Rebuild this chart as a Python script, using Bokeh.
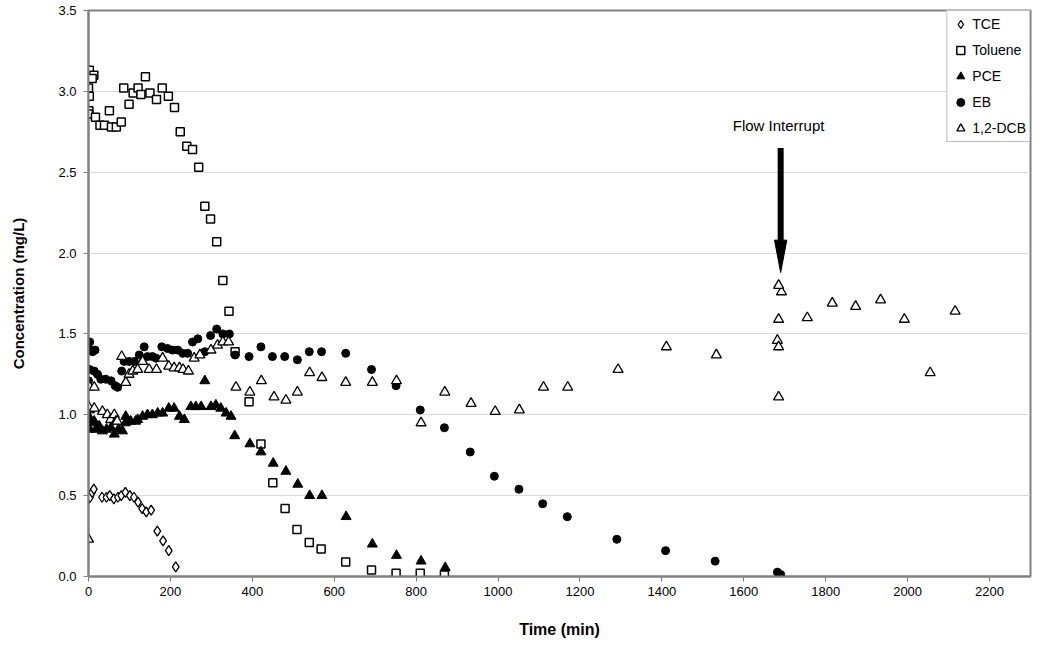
from bokeh.plotting import figure
from bokeh.models import Range1d, NumeralTickFormatter, Legend, LegendItem, FixedTicker
from bokeh.core.properties import value
from bokeh.embed import file_html
from bokeh.resources import INLINE

# ---------------- data ----------------
tce_t = [0, 1, 4, 9, 13, 33, 44, 52, 62, 72, 80, 90, 101, 111, 121, 131, 141, 153, 168, 182, 196, 213]
tce_c = [0.48, 0.50, 0.49, 0.52, 0.54, 0.49, 0.49, 0.50, 0.48, 0.49, 0.50, 0.52, 0.50, 0.49, 0.46, 0.42, 0.40, 0.41, 0.28, 0.22, 0.16, 0.06]

tol_t = [2, 13, 9, 0, 2, 1, 0, 17, 28, 39, 51, 56, 68, 80, 86, 99, 109, 121, 128, 139, 150, 166, 180, 195,
         210, 224, 240, 254, 269, 284, 298, 313, 328, 343, 358, 392, 421, 450, 480, 509, 539, 568, 628,
         691, 751, 810, 869]
tol_c = [3.13, 3.10, 3.08, 3.02, 2.97, 2.88, 2.86, 2.84, 2.79, 2.79, 2.88, 2.78, 2.78, 2.81, 3.02, 2.92, 2.99,
         3.02, 2.98, 3.09, 2.99, 2.95, 3.02, 2.97, 2.90, 2.75, 2.66, 2.64, 2.53, 2.29, 2.21, 2.07, 1.83, 1.64,
         1.39, 1.08, 0.82, 0.58, 0.42, 0.29, 0.21, 0.17, 0.09, 0.04, 0.02, 0.02, 0.01]

pce_t = [3, 3, 3, 3, 14, 18, 26, 34, 44, 55, 63, 73, 83, 90, 91, 103, 115, 120, 132, 144, 156, 169, 181,
         196, 209, 222, 234, 250, 262, 275, 284, 299, 311, 323, 336, 348, 357, 394, 421, 451, 482, 511,
         540, 570, 629, 693, 752, 812, 871]
pce_c = [1.03, 0.98, 0.95, 0.91, 0.96, 0.91, 0.93, 0.90, 0.91, 0.92, 0.88, 0.91, 0.90, 0.95, 0.99, 0.96,
         0.96, 0.97, 0.99, 1.00, 1.00, 1.01, 1.01, 1.04, 1.04, 0.99, 0.97, 1.05, 1.05, 1.05, 1.21, 1.05,
         1.06, 1.04, 1.01, 0.99, 0.87, 0.82, 0.77, 0.70, 0.65, 0.57, 0.50, 0.50, 0.37, 0.20, 0.13, 0.095, 0.054]

eb_t = [3, 3, 10, 16, 0, 3, 14, 22, 30, 42, 55, 65, 71, 81, 87, 99, 112, 124, 136, 144, 156, 165, 179,
        193, 205, 218, 230, 242, 254, 267, 284, 298, 313, 328, 344, 358, 392, 421, 449, 479, 510, 539,
        569, 628, 691, 751, 810, 869, 932, 991, 1051, 1109, 1169, 1290, 1409, 1530, 1682, 1690]
eb_c = [1.45, 1.40, 1.39, 1.40, 1.21, 1.28, 1.27, 1.25, 1.22, 1.22, 1.21, 1.18, 1.17, 1.27, 1.33, 1.33,
        1.33, 1.37, 1.42, 1.36, 1.36, 1.35, 1.42, 1.41, 1.40, 1.40, 1.38, 1.38, 1.45, 1.47, 1.39, 1.49,
        1.53, 1.50, 1.50, 1.37, 1.36, 1.42, 1.36, 1.36, 1.34, 1.39, 1.39, 1.38, 1.28, 1.18, 1.03, 0.92,
        0.77, 0.62, 0.54, 0.45, 0.37, 0.23, 0.16, 0.095, 0.027, 0.012]

dcb_t = [0, 0, 3, 14, 14, 34, 46, 54, 63, 67, 70, 81, 91, 99, 108, 120, 132, 148, 166, 181, 196, 209,
         222, 231, 244, 258, 272, 299, 315, 328, 342, 360, 394, 422, 453, 482, 510, 540, 570, 628, 693,
         752, 812, 870, 934, 993, 1052, 1111, 1170, 1293, 1411, 1533, 1682, 1685, 1685, 1685, 1692,
         1755, 1816, 1873, 1934, 1992, 2055, 2116, 1685]
dcb_c = [0.23, 1.05, 1.17, 1.17, 1.04, 1.02, 1.00, 0.97, 1.00, 0.96, 0.96, 1.36, 1.20, 1.25, 1.27, 1.28,
         1.33, 1.28, 1.28, 1.35, 1.30, 1.29, 1.29, 1.28, 1.27, 1.35, 1.37, 1.40, 1.43, 1.45, 1.45, 1.17,
         1.14, 1.21, 1.11, 1.09, 1.14, 1.26, 1.23, 1.20, 1.20, 1.21, 0.95, 1.14, 1.07, 1.02, 1.03, 1.17,
         1.17, 1.28, 1.42, 1.37, 1.46, 1.42, 1.11, 1.59, 1.76, 1.60, 1.69, 1.67, 1.71, 1.59, 1.26, 1.64, 1.80]

x_ticks = list(range(0, 2201, 200))
y_ticks = [0.0, 0.5, 1.0, 1.5, 2.0, 2.5, 3.0, 3.5]

# annotation
ann_text = "Flow  Interrupt"
ann_x = 1690
ann_text_y = 2.79
arrow_top = 2.65
arrow_head_base = 2.08
arrow_tip = 1.88
arrow_head_half = 15

FONT = "Liberation Sans"

p = figure(output_backend="svg", toolbar_location=None,
           frame_width=942, frame_height=566,
           min_border_left=88, min_border_top=10, min_border_right=12, min_border_bottom=66,
           x_range=Range1d(0, 2300), y_range=Range1d(0, 3.5))

p.background_fill_color = "white"
p.border_fill_color = "white"
p.outline_line_color = "#808080"
p.outline_line_width = 2

p.xgrid.visible = False
p.ygrid.grid_line_color = "#d9d9d9"
p.ygrid.grid_line_width = 1

p.xaxis.ticker = FixedTicker(ticks=x_ticks)
p.yaxis.ticker = FixedTicker(ticks=y_ticks)
p.yaxis.formatter = NumeralTickFormatter(format="0.0")
for ax in (p.xaxis, p.yaxis):
    ax.axis_line_color = "#808080"
    ax.axis_line_width = 2
    ax.major_tick_line_color = "#808080"
    ax.major_tick_out = 5
    ax.major_tick_in = 0
    ax.minor_tick_line_color = None
    ax.major_label_text_font = FONT
    ax.major_label_text_font_size = "13px"
    ax.major_label_text_color = "black"
    ax.axis_label_text_font = FONT
    ax.axis_label_text_font_style = "bold"
    ax.axis_label_text_color = "black"
p.yaxis.major_label_standoff = 7
p.xaxis.major_label_standoff = 5
p.xaxis.axis_label = "Time (min)"
p.xaxis.axis_label_text_font_size = "16px"
p.xaxis.axis_label_standoff = 22
p.yaxis.axis_label = "Concentration (mg/L)"
p.yaxis.axis_label_text_font_size = "15px"
p.yaxis.axis_label_standoff = 28

r_tce = p.scatter(tce_t, tce_c, marker="diamond", size=10, fill_color="white",
                  line_color="black", line_width=1.3)
r_tol = p.scatter(tol_t, tol_c, marker="square", size=8, fill_color="white",
                  line_color="black", line_width=1.5)
r_pce = p.scatter(pce_t, pce_c, marker="triangle", size=10, fill_color="black",
                  line_color="black", line_width=1)
r_eb = p.scatter(eb_t, eb_c, marker="circle", size=8, fill_color="black",
                 line_color="black", line_width=1)
r_dcb = p.scatter(dcb_t, dcb_c, marker="triangle", size=10, fill_color="white",
                  line_color="black", line_width=1.3)

# flow interrupt annotation
p.segment(x0=[ann_x], y0=[arrow_top], x1=[ann_x], y1=[arrow_head_base - 0.01],
          line_color="black", line_width=6)
p.patch([ann_x - arrow_head_half, ann_x + arrow_head_half, ann_x],
        [arrow_head_base, arrow_head_base, arrow_tip], fill_color="black", line_color="black")
p.text(x=[ann_x], y=[ann_text_y], text=[ann_text], text_align="center", text_baseline="middle",
       text_font=value(FONT), text_font_size="15px", text_color="black")

legend = Legend(items=[
    LegendItem(label="TCE", renderers=[r_tce]),
    LegendItem(label="Toluene", renderers=[r_tol]),
    LegendItem(label="PCE", renderers=[r_pce]),
    LegendItem(label="EB", renderers=[r_eb]),
    LegendItem(label="1,2-DCB", renderers=[r_dcb]),
], location="top_right")
legend.margin = 0
legend.padding = 3
legend.spacing = 6
legend.glyph_width = 20
legend.glyph_height = 20
legend.label_height = 20
legend.label_standoff = 2
legend.label_text_font = FONT
legend.label_text_font_size = "14px"
legend.label_text_color = "black"
legend.border_line_color = "#808080"
legend.border_line_width = 1
legend.background_fill_color = "white"
legend.background_fill_alpha = 1
p.add_layout(legend)

open("out.html", "w").write(file_html(p, INLINE))
